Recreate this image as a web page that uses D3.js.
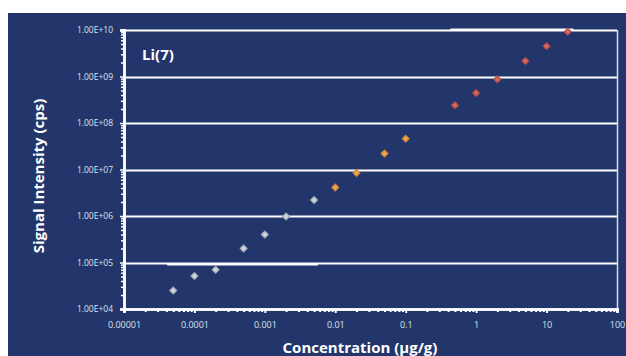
<!DOCTYPE html>
<html>
<head>
<meta charset="utf-8">
<script src="https://cdn.jsdelivr.net/npm/d3@7"></script>
<style>
  body { margin: 0; background: #fff; }
  svg text { font-family: "Open Sans", "Liberation Sans", sans-serif; }
</style>
</head>
<body>
<svg id="chart"></svg>
<script>
// calibration data, Li(7)
var blankConc = [0.00005, 0.0001, 0.0002, 0.0005, 0.001, 0.002, 0.005];
var blankSignal = [2.5e4, 5.1e4, 7e4, 2e5, 4e5, 9.8e5, 2.2e6];
var midConc = [0.01, 0.02, 0.05, 0.1];
var midSignal = [4.1e6, 8.4e6, 2.2e7, 4.6e7];
var highConc = [0.5, 1, 2, 5, 10, 20];
var highSignal = [2.4e8, 4.4e8, 8.7e8, 2.15e9, 4.5e9, 9.2e9];

var xTicks = [0.00001, 0.0001, 0.001, 0.01, 0.1, 1, 10, 100];
var xTickLabels = ["0.00001", "0.0001", "0.001", "0.01", "0.1", "1", "10", "100"];
var yTicks = [1e4, 1e5, 1e6, 1e7, 1e8, 1e9, 1e10];
var yTickLabels = ["1.00E+04", "1.00E+05", "1.00E+06", "1.00E+07", "1.00E+08", "1.00E+09", "1.00E+10"];

var W = 626, H = 356;
var margin = {top: 30, right: 9, bottom: 47, left: 124};

var svg = d3.select("#chart").attr("width", W).attr("height", H);

// navy panel
svg.append("rect")
  .attr("x", 8).attr("y", 13)
  .attr("width", W - 8).attr("height", H - 13)
  .attr("fill", "#22366c");

var x = d3.scaleLog().domain([0.00001, 100]).range([margin.left, W - margin.right]);
var y = d3.scaleLog().domain([1e4, 1e10]).range([H - margin.bottom, margin.top]);

var defs = svg.append("defs");
function grad(id, light, dark) {
  var g = defs.append("radialGradient").attr("id", id)
    .attr("cx", "50%").attr("cy", "50%").attr("r", "60%");
  g.append("stop").attr("offset", "0%").attr("stop-color", light);
  g.append("stop").attr("offset", "100%").attr("stop-color", dark);
}
grad("gGray", "#e6e9ee", "#97a0ac");
grad("gOrange", "#f6b85c", "#c87a2c");
grad("gRed", "#e27a6c", "#ad423e");

// gridlines at decades
svg.append("g").selectAll("line")
  .data(yTicks.slice(1))
  .enter().append("line")
  .attr("x1", margin.left).attr("x2", W - margin.right)
  .attr("y1", function(d){ return Math.round(y(d)) + 0.5; })
  .attr("y2", function(d){ return Math.round(y(d)) + 0.5; })
  .attr("stroke", "#ffffff").attr("stroke-width", 2);

// a couple of heavier line pieces visible in the original
var heavy = [[0.000041, 0.0057, 1e5, 1], [0.43, 24, 1e10, -1]];
svg.append("g").selectAll("line")
  .data(heavy)
  .enter().append("line")
  .attr("x1", function(d){ return x(d[0]); })
  .attr("x2", function(d){ return x(d[1]); })
  .attr("y1", function(d){ return Math.round(y(d[2])) + 0.5 + d[3]; })
  .attr("y2", function(d){ return Math.round(y(d[2])) + 0.5 + d[3]; })
  .attr("stroke", "#ffffff").attr("stroke-width", 2);

// right border
svg.append("line")
  .attr("x1", W - margin.right + 0.5).attr("x2", W - margin.right + 0.5)
  .attr("y1", margin.top).attr("y2", H - margin.bottom)
  .attr("stroke", "#d8dce4").attr("stroke-width", 1.5);

// axes with minor ticks
function minorTicks(lo, hi) {
  var out = [];
  for (var e = lo; e < hi; e++) {
    for (var k = 2; k <= 9; k++) out.push(k * Math.pow(10, e));
  }
  return out;
}

var xMinor = minorTicks(-5, 2);
var yMinor = minorTicks(4, 10);

var xAxisG = svg.append("g").attr("transform", "translate(0," + (H - margin.bottom) + ")");
xAxisG.call(d3.axisBottom(x).tickValues(xMinor).tickSize(3).tickFormat(""));
xAxisG.call(function(g){
  g.append("g").call(d3.axisBottom(x).tickValues(xTicks).tickSize(4).tickPadding(9)
    .tickFormat(function(d, i){ return xTickLabels[i]; }));
});
xAxisG.selectAll("path.domain").attr("stroke", "#fff").attr("stroke-width", 2.5);
xAxisG.selectAll("line").attr("stroke", "#fff").attr("stroke-width", 2);
xAxisG.selectAll("text").attr("fill", "#dfe3ea").attr("font-size", 9);

var yAxisG = svg.append("g").attr("transform", "translate(" + margin.left + ",0)");
yAxisG.call(d3.axisLeft(y).tickValues(yMinor).tickSize(3).tickFormat(""));
yAxisG.call(function(g){
  g.append("g").call(d3.axisLeft(y).tickValues(yTicks).tickSize(4).tickPadding(7)
    .tickFormat(function(d, i){ return yTickLabels[i]; }));
});
yAxisG.selectAll("path.domain").attr("stroke", "#fff").attr("stroke-width", 2.5);
yAxisG.selectAll("line").attr("stroke", "#fff").attr("stroke-width", 1.5);
yAxisG.selectAll("text").attr("fill", "#dfe3ea").attr("font-size", 8.5);

// data points (squares turned 45deg)
var series = [
  {conc: blankConc, sig: blankSignal, fill: "url(#gGray)"},
  {conc: midConc, sig: midSignal, fill: "url(#gOrange)"},
  {conc: highConc, sig: highSignal, fill: "url(#gRed)"}
];
var marker = d3.symbol().type(d3.symbolSquare).size(36);
series.forEach(function(s){
  svg.append("g").selectAll("path")
    .data(s.conc)
    .enter().append("path")
    .attr("d", marker)
    .attr("transform", function(d, i){ return "translate(" + x(d) + "," + y(s.sig[i]) + ") rotate(45)"; })
    .attr("fill", s.fill);
});

// titles
svg.append("text")
  .attr("x", 142).attr("y", 60)
  .attr("fill", "#fff").attr("font-size", 15).attr("font-weight", "bold")
  .text("Li(7)");

svg.append("text")
  .attr("transform", "translate(44," + 176 + ") rotate(-90)")
  .attr("text-anchor", "middle")
  .attr("fill", "#fff").attr("font-size", 15).attr("font-weight", "bold")
  .text("Signal Intensity (cps)");

svg.append("text")
  .attr("x", 360).attr("y", 353)
  .attr("text-anchor", "middle")
  .attr("fill", "#fff").attr("font-size", 15).attr("font-weight", "bold")
  .text("Concentration (µg/g)");
</script>
</body>
</html>
